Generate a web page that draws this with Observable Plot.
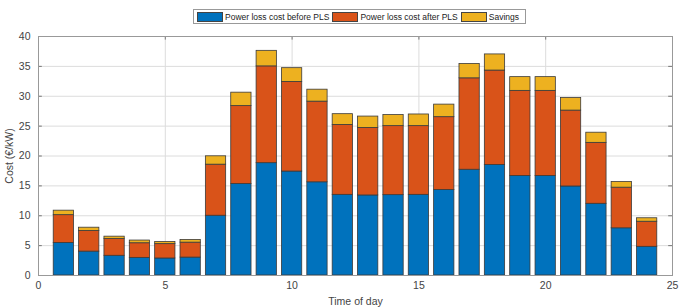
<!DOCTYPE html>
<html>
<head>
<meta charset="utf-8">
<script src="https://cdn.jsdelivr.net/npm/d3@7"></script>
<script src="https://cdn.jsdelivr.net/npm/@observablehq/plot@0.6"></script>
<style>
  body { margin: 0; background: #fff; font-family: "Liberation Sans", Arial, sans-serif; }
  #wrap { position: relative; width: 685px; height: 307px; }
  #legend { position: absolute; left: 193px; top: 9px; height: 15px; border: 1px solid #999; background: #fff;
            display: flex; align-items: center; font-size: 8.5px; color: #222; padding: 0 3px 0 3px; box-sizing: border-box; }
  .sw { width: 26px; height: 10px; border: 1px solid #444; box-sizing: border-box; margin-right: 2px; }
  .lab { margin-right: 3px; white-space: nowrap; }
  #chart { position: absolute; left: 0; top: 30px; }
</style>
</head>
<body>
<div id="wrap">
  <div id="legend"></div>
  <div id="chart"></div>
</div>
<script>
const hours = d3.range(1, 25);
const seriesNames = ["Power loss cost before PLS", "Power loss cost after PLS", "Savings"];
const colors = ["#0072BD", "#D95319", "#EDB120"];
// stacked segment heights
const beforePLS = [5.45, 4.0, 3.3, 2.95, 2.85, 3.0, 10.0, 15.3, 18.8, 17.4, 15.6, 13.5, 13.4, 13.45, 13.5, 14.3, 17.7, 18.5, 16.65, 16.65, 14.9, 12.0, 7.9, 4.8];
const afterPLS  = [4.65, 3.45, 2.8, 2.45, 2.4, 2.5, 8.55, 13.05, 16.2, 15.0, 13.5, 11.7, 11.3, 11.55, 11.5, 12.2, 15.3, 15.8, 14.25, 14.25, 12.7, 10.2, 6.8, 4.2];
const savings   = [0.75, 0.55, 0.4, 0.45, 0.35, 0.45, 1.4, 2.25, 2.6, 2.3, 2.0, 1.8, 1.9, 1.85, 1.95, 2.1, 2.4, 2.7, 2.3, 2.3, 2.1, 1.7, 0.95, 0.58];
const xTicks = [0, 5, 10, 15, 20, 25];
const yTicks = [0, 5, 10, 15, 20, 25, 30, 35, 40];
const barWidth = 0.8;

const seriesValues = [beforePLS, afterPLS, savings];
const rows = [];
hours.forEach((h, i) => {
  let base = 0;
  seriesValues.forEach((vals, s) => {
    rows.push({hour: h, series: seriesNames[s], y1: base, y2: base + vals[i]});
    base += vals[i];
  });
});

const legend = document.getElementById("legend");
seriesNames.forEach((n, i) => {
  const sw = document.createElement("div");
  sw.className = "sw"; sw.style.background = colors[i];
  const lab = document.createElement("span");
  lab.className = "lab"; lab.textContent = n;
  legend.appendChild(sw); legend.appendChild(lab);
});

const innerX = xTicks.slice(1, -1);
const innerY = yTicks.slice(1, -1);
const chart = Plot.plot({
  width: 685,
  height: 277,
  marginLeft: 38,
  marginRight: 13,
  marginTop: 6,
  marginBottom: 32,
  style: {fontFamily: "Liberation Sans, Arial, sans-serif", fontSize: "10.5px", color: "#444", background: "#fff"},
  x: {domain: [0, 25]},
  y: {domain: [0, 40]},
  color: {domain: seriesNames, range: colors},
  marks: [
    Plot.gridX(xTicks, {stroke: "#dcdcdc", strokeOpacity: 1}),
    Plot.gridY(yTicks, {stroke: "#dcdcdc", strokeOpacity: 1}),
    Plot.ruleX(innerX, {y1: 0, y2: 0.6, stroke: "#777"}),
    Plot.ruleX(innerX, {y1: 39.4, y2: 40, stroke: "#777"}),
    Plot.ruleY(innerY, {x1: 0, x2: 0.15, stroke: "#777"}),
    Plot.ruleY(innerY, {x1: 24.85, x2: 25, stroke: "#777"}),
    Plot.rect(rows, {
      x1: d => d.hour - barWidth / 2,
      x2: d => d.hour + barWidth / 2,
      y1: "y1", y2: "y2",
      fill: "series",
      stroke: "#3a3a3a", strokeWidth: 0.8
    }),
    Plot.axisX(xTicks, {tickSize: 0, tickPadding: 6, fontSize: 10.5, fill: "#444",
      label: "Time of day", labelAnchor: "center", labelArrow: "none", labelOffset: 29}),
    Plot.axisY(yTicks, {tickSize: 0, tickPadding: 8, fontSize: 10.5, fill: "#444",
      label: "Cost (€/kW)", labelAnchor: "center", labelArrow: "none", labelOffset: 33}),
    Plot.frame({stroke: "#999"})
  ]
});
document.getElementById("chart").appendChild(chart);
</script>
</body>
</html>
